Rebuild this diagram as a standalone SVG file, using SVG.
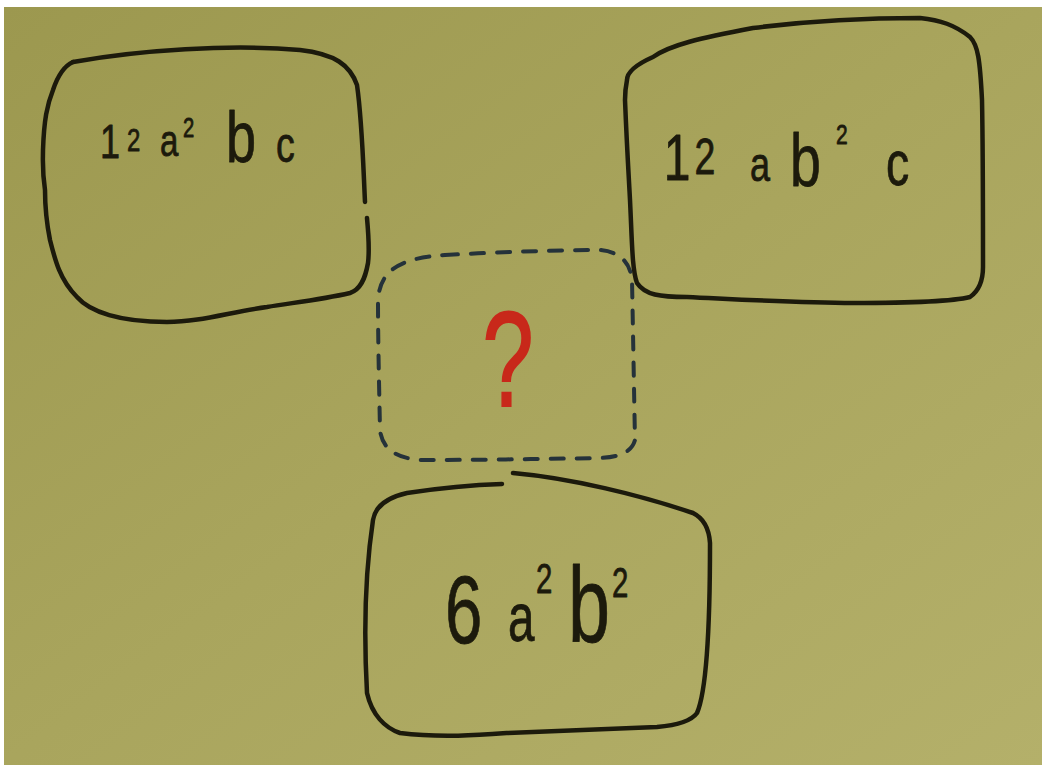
<svg xmlns="http://www.w3.org/2000/svg" width="1047" height="772" viewBox="0 0 1047 772">
  <defs>
    <linearGradient id="board" x1="0" y1="0" x2="1" y2="1">
      <stop offset="0" stop-color="#9c984f"/>
      <stop offset="0.5" stop-color="#a9a55d"/>
      <stop offset="1" stop-color="#b4b06a"/>
    </linearGradient>
    <style>
      .box{fill:none;stroke:#1c1a0c;stroke-width:4.5;stroke-linecap:round;stroke-linejoin:round}
      .dash{fill:none;stroke:#25323a;stroke-width:4;stroke-linecap:round;stroke-dasharray:13 13}
      .ink{font-family:"Liberation Sans","DejaVu Sans",sans-serif;fill:#1c1a0c;stroke:#1c1a0c;stroke-width:0.8;stroke-linejoin:round}
      .red{font-family:"Liberation Sans","DejaVu Sans",sans-serif;fill:#c8281a;stroke:#c8281a;stroke-width:2}
    </style>
  </defs>
  <rect width="1047" height="772" fill="#ffffff"/>
  <rect x="4" y="7" width="1038" height="758" fill="url(#board)"/>

  <g id="node-12a2bc">
    <path class="box" d="M73,62 C140,50 230,44 300,50 C335,54 350,65 357,85 C362,120 363,160 365,202"/>
    <path class="box" d="M367,218 C369,240 369,255 368,263 C365,280 360,290 350,293 C320,300 290,303 267,307 C230,312 200,322 167,322 C120,322 90,312 77,297 C60,280 55,260 50,240 C46,220 45,205 45,190 C42,170 43,160 43,150 C44,120 47,105 53,90 C58,75 64,66 73,62"/>
    <text class="ink" transform="scale(0.75,1)" y="158" font-size="48"><tspan x="133.3">1</tspan><tspan x="169.3" font-size="32" y="151">2</tspan><tspan x="213.3" font-size="44" y="156">a</tspan><tspan x="244" font-size="27" y="137">2</tspan><tspan x="301.3" font-size="72" y="162">b</tspan><tspan x="368" font-size="50" y="162">c</tspan></text>
  </g>

  <g id="node-12ab2c">
    <path class="box" d="M753,28 C700,38 670,45 653,57 C635,65 627,72 627,80 C625,90 625,95 625,100 C627,150 629,180 630,200 C632,240 632,270 637,283 C645,295 660,297 687,297 C750,300 800,303 853,303 C900,303 950,302 970,297 C980,290 983,280 983,267 C983,200 983,150 982,100 C980,60 978,45 970,37 C955,25 940,20 920,18 C860,18 800,22 753,28"/>
    <text class="ink" transform="scale(0.75,1)" y="180" font-size="64"><tspan x="885">1</tspan><tspan x="926" font-size="50" y="174">2</tspan><tspan x="1000" font-size="48" y="181">a</tspan><tspan x="1053.3" font-size="74" y="186">b</tspan><tspan x="1114.7" font-size="28" y="144">2</tspan><tspan x="1181.3" font-size="62" y="185">c</tspan></text>
  </g>

  <g id="node-question">
    <path class="dash" d="M445,255 C500,252 560,250 600,250 C620,252 630,262 632,280 C633,330 634,390 635,440 C632,452 620,457 600,458 C540,459 480,460 420,460 C395,458 382,448 380,430 C379,380 378,340 378,300 C380,270 400,258 445,255 Z"/>
    <text class="red" x="0" y="0" font-size="135" text-anchor="middle" transform="translate(508,406) scale(0.68,1)">?</text>
  </g>

  <g id="node-6a2b2">
    <path class="box" d="M502,484 C470,485 440,488 407,493 C385,498 375,508 373,520 C367,560 363,620 367,693 C372,715 385,728 400,733 C440,738 480,735 507,733 C560,731 610,729 657,727 C680,725 692,720 697,713 C707,690 710,620 710,543 C709,528 703,518 693,513 C640,495 570,478 513,473"/>
    <text class="ink" transform="scale(0.7,1)" y="643" font-size="96"><tspan x="635.7">6</tspan><tspan x="725.7" font-size="68" y="641">a</tspan><tspan x="765.7" font-size="42" y="593">2</tspan><tspan x="811.4" font-size="108" y="642">b</tspan><tspan x="874.3" font-size="42" y="597">2</tspan></text>
  </g>

  <g id="connectors"></g>
</svg>
